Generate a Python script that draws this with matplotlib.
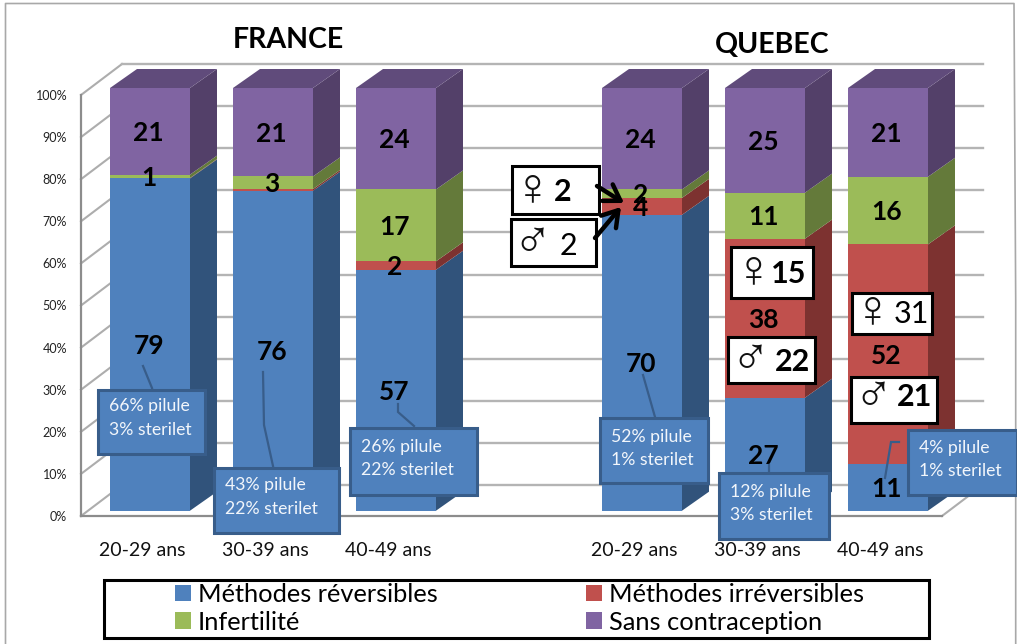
import matplotlib
matplotlib.use("Agg")
import matplotlib.pyplot as plt
from matplotlib.patches import Polygon, Rectangle
from matplotlib.ticker import PercentFormatter

plt.rcParams['font.family'] = ['Lato', 'DejaVu Sans']

# ---- data ----
categories = ["20-29 ans", "30-39 ans", "40-49 ans", "20-29 ans", "30-39 ans", "40-49 ans"]
positions = [0, 1, 2, 4, 5, 6]
reversibles = [79, 76, 57, 70, 27, 11]
irreversibles = [0.1, 0.4, 2, 4, 38, 52]
infertilite = [0.8, 3, 17, 2, 11, 16]
sans = [20.6, 21, 24, 24, 25, 21]
series_names = ["Méthodes réversibles", "Méthodes irréversibles", "Infertilité", "Sans contraception"]
pct_ticks = [0, 10, 20, 30, 40, 50, 60, 70, 80, 90, 100]
titles = ["FRANCE", "QUEBEC"]

front = ["#4F81BD", "#C0504D", "#9BBB59", "#8064A2"]
side = ["#31537B", "#7D3230", "#647A3A", "#534069"]
top_col = "#604B7B"

W, H = 1017, 644
fig = plt.figure(figsize=(W / 100, H / 100), dpi=100, facecolor="white")

def rect(l, t, r, b):
    return [l / W, 1 - b / H, (r - l) / W, (b - t) / H]

XU = 123.0            # pixels per category
X0 = 150              # pixel of category 0
# ---- wall axes: y axis, gridlines, category labels
wl, wr, wt, wb = 81, 942, 95, 516
wall = fig.add_axes(rect(wl, wt, wr, wb), zorder=1, facecolor="none")
xl, xr = (wl - X0) / XU, (wr - X0) / XU
wall.set_xlim(xl, xr)
wall.set_ylim(0, 100)
wall.yaxis.set_major_formatter(PercentFormatter(100, decimals=0))
wall.set_yticks(pct_ticks)
wall.tick_params(axis="y", length=0, pad=10, labelsize=9, labelcolor="#222222")
wall.set_xticks([p - 8 / XU for p in positions])
wall.set_xticklabels(categories)
wall.tick_params(axis="x", length=0, pad=19, labelsize=14, labelcolor="#111111")
for s in ("top", "right"):
    wall.spines[s].set_visible(False)
for s in ("left", "bottom"):
    wall.spines[s].set_color("#8C8C8C")
    wall.spines[s].set_linewidth(1.6)
ddx, ddy = 41 / XU, 31 / 4.21
for v in pct_ticks:
    wall.plot([xl, xl + ddx], [v, v + ddy], color="#ADADAD", lw=1.5, clip_on=False, zorder=1)
    wall.plot([xl + ddx, xr + ddx], [v + ddy, v + ddy], color="#B4B4B4", lw=1.7, clip_on=False, zorder=1)
wall.plot([xr, xr + ddx], [0, ddy], color="#ADADAD", lw=1.5, clip_on=False, zorder=1)

# ---- bar axes
YU = 4.227
bar_bottom = 510.7
ax = fig.add_axes([0, 0, 1, 1], zorder=2, facecolor="none")
ax.set_xlim(-X0 / XU, (W - X0) / XU)
ax.set_ylim(-(H - bar_bottom) / YU, 100 + (bar_bottom - 422.7) / YU)
ax.axis("off")
bw = 80 / XU
dx, dy = 27 / XU, 19 / YU
all_series = [reversibles, irreversibles, infertilite, sans]
n = len(positions)
handles = []
for i in range(n):
    vals = [s[i] for s in all_series]
    tot = sum(vals)
    cum = 0
    x = positions[i]
    for k, val in enumerate(vals):
        h = val / tot * 100
        l, r = x - bw / 2, x + bw / 2
        bar = ax.bar(x, h, bw, bottom=cum, color=front[k], linewidth=0, zorder=3)
        if i == 0:
            handles.append(bar[0])
        ax.add_patch(Polygon([(r, cum), (r + dx, cum + dy), (r + dx, cum + h + dy), (r, cum + h)],
                             closed=True, fc=side[k], ec="none", zorder=2))
        if val >= 0.5:
            ax.annotate(f"{val:.0f}", (x, cum + h / 2), xytext=(-1.0, -1.2), textcoords="offset points",
                        ha="center", va="center", fontsize=19, fontweight="bold", color="black", zorder=4)
        cum += h
    l, r = x - bw / 2, x + bw / 2
    ax.add_patch(Polygon([(l, 100), (r, 100), (r + dx, 100 + dy), (l + dx, 100 + dy)],
                         closed=True, fc=top_col, ec="none", zorder=2))

# ---- overlay in pixel coordinates (annotations only)
ov = fig.add_axes([0, 0, 1, 1], zorder=5, facecolor="none")
ov.set_xlim(0, W)
ov.set_ylim(H, 0)
ov.axis("off")

# outer frame
ov.plot([5.5, 5.5, 1014, 1015.7, 1015.7], [H, 3.5, 3.5, 300, H], color="#A8A8A8", lw=1.2)

ov.text(288, 40, titles[0], ha="center", va="center", fontsize=20.5, fontweight="bold", color="black")
ov.text(772, 45, titles[1], ha="center", va="center", fontsize=20.5, fontweight="bold", color="black")

def callout(l, t, r, b, y1, y2, txt1, txt2, leader):
    ov.plot(*zip(*leader), color="#385D8A", lw=1.6, zorder=2, solid_joinstyle="miter")
    ov.add_patch(Rectangle((l, t), r - l, b - t, fc="#4F81BD", ec="#385D8A", lw=2.2, zorder=3))
    ov.text(l + 11, y1, txt1, color="#F2F6FB", fontsize=12.7, va="center", ha="left", zorder=4)
    ov.text(l + 11, y2, txt2, color="#F2F6FB", fontsize=12.7, va="center", ha="left", zorder=4)

callout(98, 390, 205, 454, 406, 430, "66% pilule", "3% sterilet", [(143, 366), (152, 388)])
callout(214, 468, 339, 533, 485, 509, "43% pilule", "22% sterilet", [(263, 372), (264, 425), (273, 466)])
callout(350, 428, 477, 495, 447, 470, "26% pilule", "22% sterilet", [(398, 404), (398, 412), (414, 426)])
callout(600, 418, 708, 483, 437, 460, "52% pilule", "1% sterilet", [(643, 375), (655, 417)])
callout(719, 473, 829, 539, 492, 515, "12% pilule", "3% sterilet", [(769, 465), (769, 473)])
callout(908, 430, 1017, 495, 448, 471, "4% pilule", "1% sterilet", [(899, 442), (891, 442), (885, 478)])

def gbox(l, t, r, b, sym, sx, sy, txt, tx, ty, weight="bold"):
    ov.add_patch(Rectangle((l, t), r - l, b - t, fc="white", ec="black", lw=2.2, zorder=6))
    ov.text(sx, sy, sym, family=["Liberation Sans", "DejaVu Sans"], fontsize=38, ha="center", va="center",
            color="#111111", zorder=7)
    ov.text(tx, ty, txt, fontsize=22, fontweight=weight, ha="center", va="center", color="black", zorder=7)

gbox(512, 166, 599, 214, "\u2640", 533, 190, "2", 563, 192)
gbox(511, 219, 596, 266, "\u2642", 532, 243, "2", 568, 246, "normal")
gbox(731, 247, 813, 298, "\u2640", 754, 272, "15", 789, 274)
gbox(728, 337, 815, 383, "\u2642", 750, 360, "22", 793, 362)
gbox(852, 293, 932, 334, "\u2640", 873, 312, "31", 911, 314, "normal")
gbox(851, 377, 937, 423, "\u2642", 873, 397, "21", 915, 397)

for start, end in [((597, 186), (624, 203)), ((595, 238), (621, 207))]:
    ov.annotate("", xy=end, xytext=start, zorder=8,
                arrowprops=dict(arrowstyle="->,head_length=0.55,head_width=0.35", color="black", lw=3.2,
                                shrinkA=0, shrinkB=0, mutation_scale=20))

# legend
ov.add_patch(Rectangle((103.5, 579.5), 825, 58, fc="white", ec="black", lw=2.2, zorder=1))
order = [0, 2, 1, 3]
leg = ov.legend(handles=[handles[k] for k in order], labels=[series_names[k] for k in order], ncol=2,
                loc="upper left", bbox_to_anchor=(175 / W, 1 - 583 / H), bbox_transform=fig.transFigure,
                frameon=False, fontsize=18.3, borderpad=0, borderaxespad=0, handlelength=0.63, handleheight=0.63,
                handletextpad=0.26, labelspacing=0.18, columnspacing=5.85, labelcolor="black")
leg.set_zorder(3)

fig.savefig("out.png", dpi=100)
